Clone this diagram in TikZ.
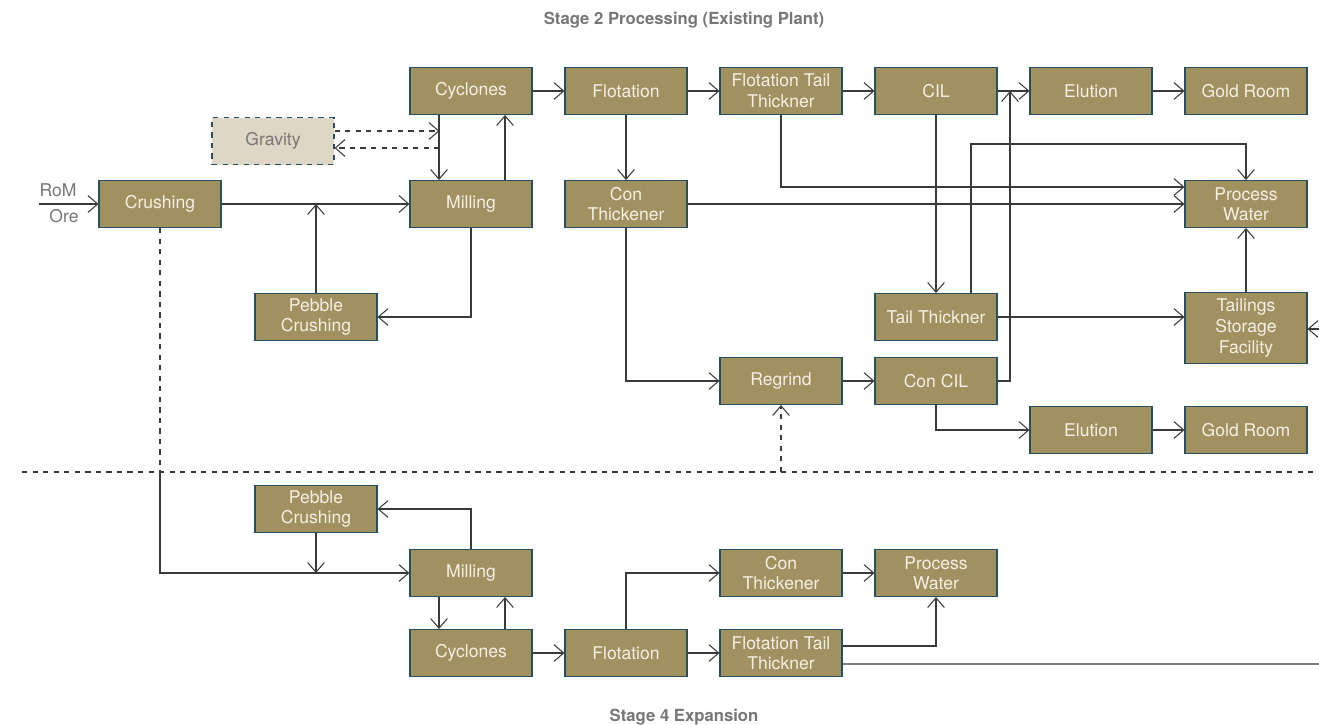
\documentclass[tikz,border=0pt]{standalone}
\usepackage{fontspec}
\setmainfont{TeX Gyre Heros}
\usetikzlibrary{arrows.meta}
\definecolor{boxfill}{HTML}{A19060}
\definecolor{boxedge}{HTML}{24505F}
\definecolor{boxtext}{HTML}{F4F0E6}
\definecolor{gravfill}{HTML}{DFD7C5}
\definecolor{linecol}{HTML}{3A3A3A}
\definecolor{labgray}{HTML}{777777}
\begin{document}
\begin{tikzpicture}[x=0.02cm, y=-0.02cm,
	unit/.style = {draw=boxedge, fill=boxfill, text=boxtext, line width=0.6pt,
		minimum width=2.44cm, minimum height=0.94cm, inner sep=1pt, align=center,
		font=\fontsize{10}{11.7}\selectfont},
	aux/.style = {unit, fill=gravfill, text=labgray, dashed},
	plain/.style = {draw=linecol, line width=0.6pt},
	flow/.style = {plain, -{Straight Barb[length=5.5pt,width=9.5pt]}},
	lbl/.style = {text=labgray, font=\fontsize{10}{12}\selectfont},
	heading/.style = {text=labgray, font=\fontsize{9.5}{11}\bfseries}]
		\useasboundingbox (0,0) rectangle (1319,724);
		\node[heading] (top) at (684,20) {Stage 2 Processing (Existing Plant)};
		\node[heading] (bottom) at (684,717) {Stage 4 Expansion};
		\node[unit] (cyc) at (471,91) {Cyclones};
		\node[unit] (flot) at (626,91) {Flotation};
		\node[unit] (ftt) at (781,91) {Flotation Tail\\Thickner};
		\node[unit] (cil) at (936,91) {CIL};
		\node[unit] (elu) at (1091,91) {Elution};
		\node[unit] (gold) at (1246,91) {Gold Room};
		\node[aux] (grav) at (273,141) {Gravity};
		\node[unit] (crush) at (160,204) {Crushing};
		\node[unit] (mill) at (471,204) {Milling};
		\node[unit] (conthk) at (626,204) {Con\\Thickener};
		\node[unit] (procw) at (1246,204) {Process\\Water};
		\node[unit] (peb) at (316,317) {Pebble\\Crushing};
		\node[unit] (tailthk) at (936,317) {Tail Thickner};
		\node[unit, minimum height=1.42cm] (tsf) at (1246,328) {Tailings\\Storage\\Facility};
		\node[unit] (regrind) at (781,381) {Regrind};
		\node[unit] (concil) at (936,381) {Con CIL};
		\node[unit] (elu2) at (1091,430) {Elution};
		\node[unit] (gold2) at (1246,430) {Gold Room};
		\node[unit] (peb4) at (316,509) {Pebble\\Crushing};
		\node[unit] (mill4) at (471,573) {Milling};
		\node[unit] (cyc4) at (471,653) {Cyclones};
		\node[unit] (flot4) at (626,653) {Flotation};
		\node[unit] (ftt4) at (781,653) {Flotation Tail\\Thickner};
		\node[unit] (conthk4) at (781,573) {Con\\Thickener};
		\node[unit] (procw4) at (936,573) {Process\\Water};
		\coordinate (rom) at (39,204);
		\coordinate (split) at (160,472);
		\coordinate (merge) at (1010,91);
		\coordinate (regin) at (781,472);
		\coordinate (tsfin) at (1319,329);
		\coordinate (tsfret) at (1319,664);
		\node[lbl] (romtxt) at (58,190) {RoM};
		\node[lbl] (oretxt) at (64,216) {Ore};
		\draw[plain, dashed] (22,472) -- (1319,472);
		\draw[flow] (rom) -- (crush.west);
		\draw[flow] (crush) -- (mill);
		\draw[flow] (peb.north) -- (peb.north |- crush.east);
		\draw[flow] (mill.south) |- (peb.east);
		\draw[flow] ([xshift=0.68cm]mill.north) -- ([xshift=0.68cm]cyc.south);
		\draw[flow] ([xshift=-0.64cm]cyc.south) -- ([xshift=-0.64cm]mill.north);
		\draw[flow, dashed] ([yshift=0.2cm]grav.east) -- ++(105,0);
		\draw[flow, dashed] ([yshift=-0.14cm, xshift=2.1cm]grav.east) -- ([yshift=-0.14cm]grav.east);
		\draw[flow] (cyc) -- (flot);
		\draw[flow] (flot) -- (ftt);
		\draw[flow] (ftt) -- (cil);
		\draw[flow] (cil) -- (elu);
		\draw[flow] (elu) -- (gold);
		\draw[flow] (flot) -- (conthk);
		\draw[flow] (ftt.south) |- ([yshift=0.34cm]procw.west);
		\draw[flow] (conthk) -- (procw);
		\draw[flow] (conthk.south) |- (regrind.west);
		\draw[flow] (cil) -- (tailthk);
		\draw[flow] ([xshift=0.7cm]tailthk.north) -- ++(0,-149) -| (procw.north);
		\draw[flow] (tailthk.east) -- (tailthk.east -| tsf.west);
		\draw[flow] (tsf) -- (procw);
		\draw[flow] (tsfin) -- (tsfin -| tsf.east);
		\draw[flow] (regrind) -- (concil);
		\draw[flow] (concil.east) -| (merge);
		\draw[flow] (concil.south) |- (elu2.west);
		\draw[flow] (elu2) -- (gold2);
		\draw[flow, dashed] (regin) -- (regrind.south);
		\draw[plain, dashed] (crush.south) -- (split);
		\draw[flow] (split) |- (mill4.west);
		\draw[flow] (peb4.south) -- (peb4.south |- mill4.west);
		\draw[flow] (mill4.north) |- (peb4.east);
		\draw[flow] ([xshift=-0.64cm]mill4.south) -- ([xshift=-0.64cm]cyc4.north);
		\draw[flow] ([xshift=0.68cm]cyc4.north) -- ([xshift=0.68cm]mill4.south);
		\draw[flow] (cyc4) -- (flot4);
		\draw[flow] (flot4) -- (ftt4);
		\draw[flow] (flot4.north) |- (conthk4.west);
		\draw[flow] (conthk4) -- (procw4);
		\draw[flow] ([yshift=0.14cm]ftt4.east) -| (procw4.south);
		\draw[plain] ([yshift=-0.22cm]ftt4.east) -- (tsfret);
\end{tikzpicture}
\end{document}
